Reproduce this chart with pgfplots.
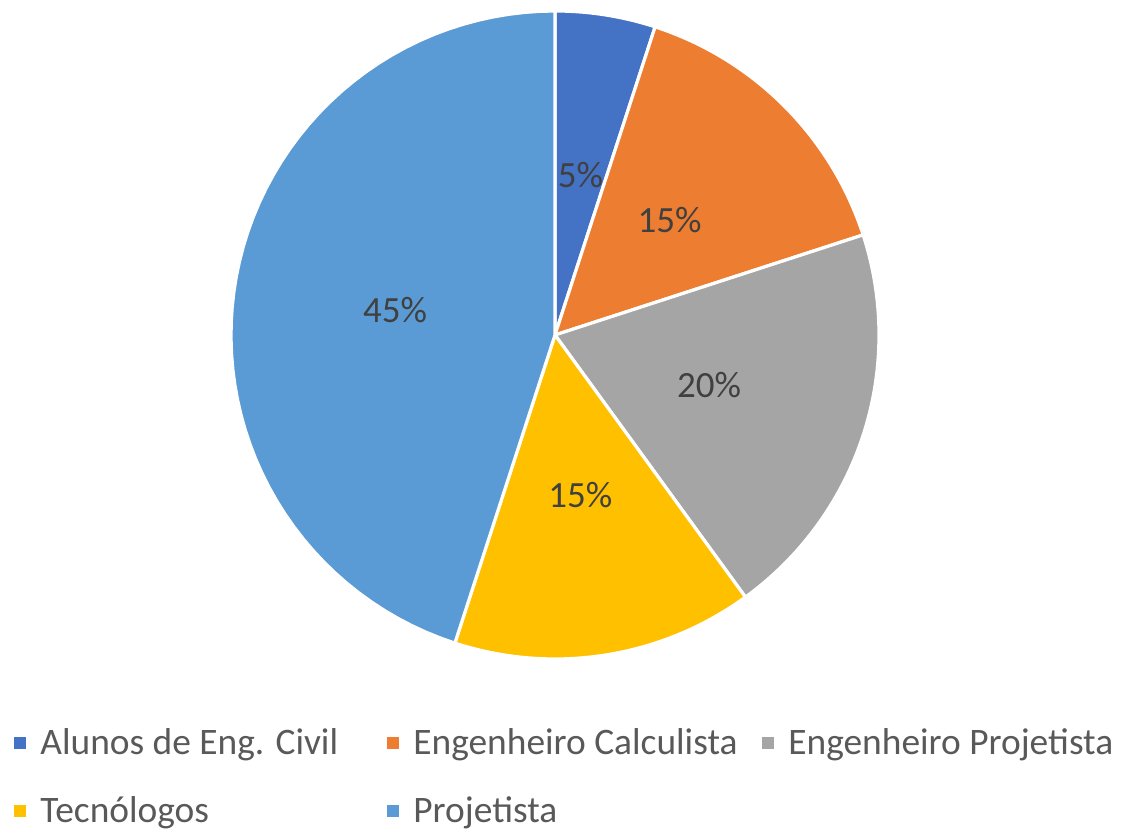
\documentclass[border=0pt]{standalone}
\usepackage{pgfplots}
\pgfplotsset{compat=1.18}
\usepackage{fontspec}
\setmainfont{Carlito}
\definecolor{cA}{HTML}{4472C4}
\definecolor{cB}{HTML}{ED7D31}
\definecolor{cC}{HTML}{A5A5A5}
\definecolor{cD}{HTML}{FFC000}
\definecolor{cE}{HTML}{5B9BD5}
\definecolor{legtext}{HTML}{595959}
\definecolor{labtext}{HTML}{404040}
\begin{document}
\begin{tikzpicture}
\begin{axis}[
  scale only axis, width=563.5pt, height=414.5pt,
  xmin=0, xmax=1127, ymin=0, ymax=829,
  hide axis, clip=false,
  legend columns=3,
  legend style={at={(axis cs:8,52)}, anchor=west, draw=none, fill=none,
    font=\fontsize{18.7}{22}\selectfont, text=legtext,
    nodes={inner sep=0pt}, row sep=19.5pt,
    /tikz/every odd column/.append style={column sep=7pt},
    /tikz/every even column/.append style={column sep=0pt}},
  legend cell align=left,
  legend image code/.code={\fill[#1, draw=none] (0pt,-3pt) rectangle (6pt,3pt);},
  every axis plot/.append style={draw=white, line width=1.6pt, line join=round, samples=60},
]
\path (axis cs:0,0) rectangle (axis cs:1127,829);
% shares (%): 5, 15, 20, 15, 45 -- clockwise from 12 o'clock
\addplot[fill=cA, domain=72:90] ({555+324*cos(x)},{494+324*sin(x)}) -- (axis cs:555,494) -- cycle;
\addlegendentry{\makebox[173.5pt][l]{Alunos de Eng. Civil}}
\addplot[fill=cB, domain=18:72] ({555+324*cos(x)},{494+324*sin(x)}) -- (axis cs:555,494) -- cycle;
\addlegendentry{\makebox[174.5pt][l]{Engenheiro Calculista}}
\addplot[fill=cC, domain=-54:18] ({555+324*cos(x)},{494+324*sin(x)}) -- (axis cs:555,494) -- cycle;
\addlegendentry{Engenheiro Projetista}
\addplot[fill=cD, domain=-108:-54] ({555+324*cos(x)},{494+324*sin(x)}) -- (axis cs:555,494) -- cycle;
\addlegendentry{\makebox[173.5pt][l]{Tecnólogos}}
\addplot[fill=cE, domain=-270:-108] ({555+324*cos(x)},{494+324*sin(x)}) -- (axis cs:555,494) -- cycle;
\addlegendentry{\makebox[174.5pt][l]{Projetista}}
\begin{scope}[every node/.style={font=\fontsize{18.5}{21}\selectfont, text=labtext}]
\node at (axis cs:{555+162*cos(81)},{494+162*sin(81)}) {5\%};
\node at (axis cs:{555+162*cos(45)},{494+162*sin(45)}) {15\%};
\node at (axis cs:{555+162*cos(-18)},{494+162*sin(-18)}) {20\%};
\node at (axis cs:{555+162*cos(-81)},{494+162*sin(-81)}) {15\%};
\node at (axis cs:{555+162*cos(-189)},{494+162*sin(-189)}) {45\%};
\end{scope}
\end{axis}
\end{tikzpicture}
\end{document}
